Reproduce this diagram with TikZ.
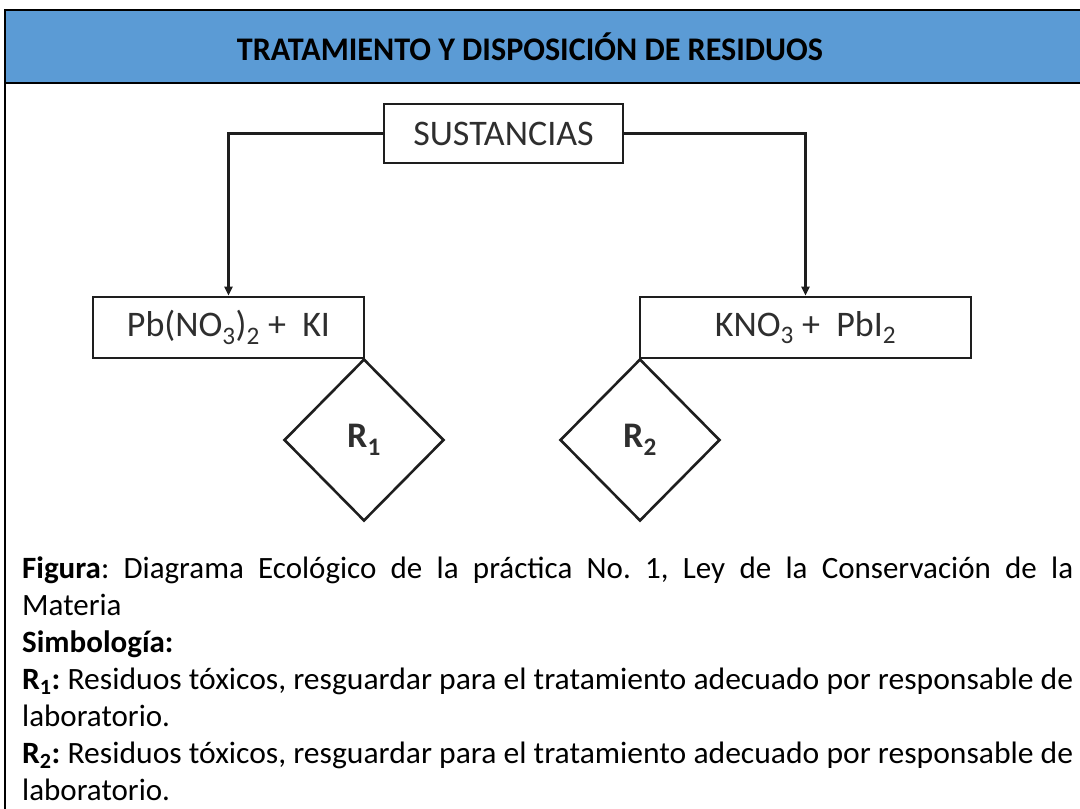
\documentclass[tikz,border=0pt]{standalone}
\usepackage{fontspec}
\setmainfont{Carlito}
\usepackage{graphicx}
\usetikzlibrary{shapes.geometric,arrows.meta}
\definecolor{headblue}{HTML}{5B9BD5}
\definecolor{ink}{HTML}{1E1E1E}
\definecolor{dtext}{HTML}{2E2E2E}
\frenchspacing
\tikzset{
  box/.style={draw=ink, line width=2.6pt, inner sep=0pt, text=dtext,
    font=\fontsize{36}{40}\selectfont},
  dia/.style={draw=ink, line width=2.6pt, diamond, inner sep=0pt,
    minimum width=160pt, minimum height=162pt, text=dtext,
    font=\fontsize{36}{40}\selectfont\bfseries},
  conn/.style={draw=ink, line width=2.4pt, -{Triangle[length=9pt,width=8pt]}},
  body/.style={anchor=base west, inner sep=0pt, text=black,
    font=\fontsize{31}{37}\selectfont},
  frame/.style={draw=black, line width=2.6pt},
}
\begin{document}
\begin{tikzpicture}[x=1pt,y=-1pt]
\useasboundingbox (0,0) rectangle (1080,809);
% header
\fill[headblue] (5,10) rectangle (1080,83);
\draw[frame] (1080,10) -- (5,10) -- (5,809);
\draw[frame] (5,83) -- (1080,83);
\node[anchor=center, inner sep=0pt, font=\fontsize{33}{38}\selectfont\bfseries]
  (title) at (530,47) {\resizebox{586pt}{\height}{TRATAMIENTO Y DISPOSICIÓN DE RESIDUOS}};
% diagram
\node[box, minimum width=239pt, minimum height=59pt] (sust) at (503.5,133.5) {SUSTANCIAS};
\node[box, minimum width=271pt, minimum height=61pt] (pb) at (228.5,327.5)
  {Pb(NO\textsubscript{3})\textsubscript{2} +\ \ KI};
\node[box, minimum width=331pt, minimum height=61pt] (kno) at (805.5,327.5)
  {KNO\textsubscript{3} +\ \ PbI\textsubscript{2}};
\node[dia] (r1) at (364,440) {R\textsubscript{1}};
\node[dia] (r2) at (640,440) {R\textsubscript{2}};
\draw[conn] (sust.west) -| (pb.north);
\draw[conn] (sust.east) -| (kno.north);
% caption text
\node[body] (l1) at (22,578) {\hbox to 1051pt{\textbf{Figura}: Diagrama Ecológico de la práctica No. 1, Ley de la Conservación de la}};
\node[body] (l2) at (22,615) {Materia};
\node[body] (l3) at (22,652) {\textbf{Simbología:}};
\node[body] (l4) at (22,689) {\resizebox{1051pt}{\height}{\textbf{R\textsubscript{1}:} Residuos tóxicos, resguardar para el tratamiento adecuado por responsable de}};
\node[body] (l5) at (22,726) {laboratorio.};
\node[body] (l6) at (22,763) {\resizebox{1051pt}{\height}{\textbf{R\textsubscript{2}:} Residuos tóxicos, resguardar para el tratamiento adecuado por responsable de}};
\node[body] (l7) at (22,800) {laboratorio.};
\end{tikzpicture}
\end{document}
